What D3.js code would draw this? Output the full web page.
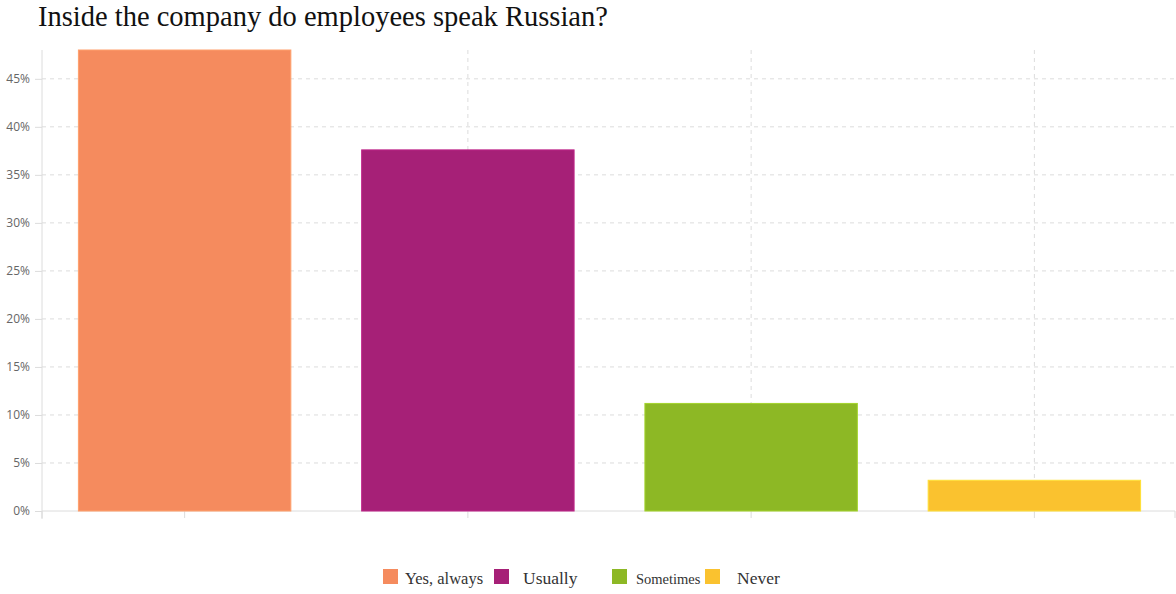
<!DOCTYPE html>
<html>
<head>
<meta charset="utf-8">
<script src="https://cdn.jsdelivr.net/npm/d3@7"></script>
<style>
  html, body { margin: 0; padding: 0; background: #fff; }
  svg { display: block; }
</style>
</head>
<body>
<svg id="chart" width="1176" height="594"></svg>
<script>
// Survey answers and their shares (percent)
const categories = ["Yes, always", "Usually", "Sometimes", "Never"];
const values = [48.0, 37.6, 11.2, 3.2];
const colors = ["#F58B5E", "#A62077", "#8DB825", "#FAC22F"];
const yTicks = [0, 5, 10, 15, 20, 25, 30, 35, 40, 45];
const legendFontSizes = [16.5, 17.5, 14.5, 17.5];

const svg = d3.select("#chart");
const margin = { left: 42, right: 1175, top: 50, bottom: 511 };

const x = d3.scaleBand()
  .domain(categories)
  .range([margin.left + 1, margin.right + 1])
  .paddingInner(0.25)
  .paddingOuter(0.125);

const y = d3.scaleLinear()
  .domain([0, 48])
  .range([margin.bottom, margin.top]);

// Title
svg.append("text")
  .attr("x", 38)
  .attr("y", 26)
  .attr("font-family", "'Liberation Serif', 'Times New Roman', serif")
  .attr("font-size", 28.5)
  .attr("fill", "#111")
  .text("Inside the company do employees speak Russian?");

// Horizontal grid
svg.append("g")
  .selectAll("line")
  .data(yTicks.filter(d => d > 0))
  .join("line")
  .attr("x1", margin.left).attr("x2", margin.right)
  .attr("y1", d => y(d)).attr("y2", d => y(d))
  .attr("stroke", "#dcdcdc")
  .attr("stroke-dasharray", "4,4");

// Vertical grid at category centres
svg.append("g")
  .selectAll("line")
  .data(categories)
  .join("line")
  .attr("x1", d => x(d) + x.bandwidth() / 2)
  .attr("x2", d => x(d) + x.bandwidth() / 2)
  .attr("y1", margin.top).attr("y2", margin.bottom)
  .attr("stroke", "#dcdcdc")
  .attr("stroke-dasharray", "4,4");

// Y axis
const yAxis = d3.axisLeft(y)
  .tickValues(yTicks)
  .tickFormat(d => d + "%")
  .tickSize(7)
  .tickSizeOuter(0)
  .tickPadding(5);

const yg = svg.append("g")
  .attr("transform", `translate(${margin.left},0)`)
  .call(yAxis);
yg.select(".domain")
  .attr("stroke", "#dcdcdc")
  .attr("d", `M0,${margin.top}V${margin.bottom + 8}`);
yg.selectAll(".tick line").attr("stroke", "#dcdcdc");
yg.selectAll(".tick text")
  .attr("fill", "#666")
  .attr("font-family", "'Open Sans', 'Noto Sans', sans-serif")
  .attr("font-size", 12);

// X axis
const xAxis = d3.axisBottom(x)
  .tickSize(7)
  .tickSizeOuter(7)
  .tickFormat("");
const xg = svg.append("g")
  .attr("transform", `translate(0,${margin.bottom})`)
  .call(xAxis);
xg.select(".domain")
  .attr("stroke", "#dcdcdc")
  .attr("d", `M${margin.left},7V0H${margin.right}V7`);
xg.selectAll(".tick line").attr("stroke", "#dcdcdc");

// Bars
svg.append("g")
  .selectAll("rect")
  .data(categories)
  .join("rect")
  .attr("x", d => x(d))
  .attr("width", x.bandwidth())
  .attr("y", (d, i) => y(values[i]))
  .attr("height", (d, i) => y(0) - y(values[i]))
  .attr("fill", (d, i) => colors[i])
  .attr("stroke", (d, i) => d3.color(colors[i]).brighter(0.4))
  .attr("stroke-width", 1);

// Legend
const legendX = [383, 494, 612, 705];
const legendTextX = [405, 523, 636, 737];
const lg = svg.append("g");
categories.forEach((c, i) => {
  lg.append("rect")
    .attr("x", legendX[i]).attr("y", 569)
    .attr("width", 15).attr("height", 15)
    .attr("fill", colors[i]);
  lg.append("text")
    .attr("x", legendTextX[i]).attr("y", 584)
    .attr("font-family", "'Liberation Serif', 'Times New Roman', serif")
    .attr("font-size", legendFontSizes[i])
    .attr("fill", "#333")
    .text(c);
});
</script>
</body>
</html>
